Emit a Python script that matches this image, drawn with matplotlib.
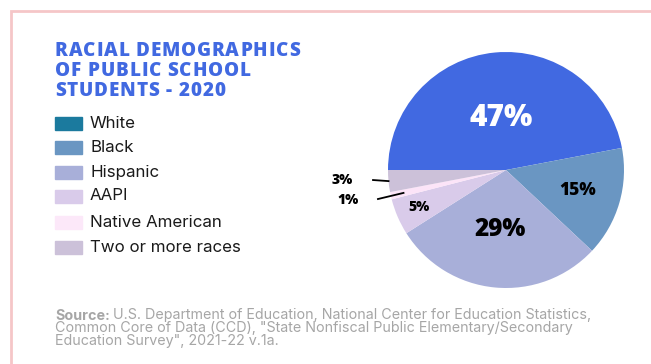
import numpy as np
import matplotlib.pyplot as plt
from matplotlib.patches import Rectangle

W, H = 651, 364

groups = ['White', 'Black', 'Hispanic', 'AAPI', 'Native American', 'Two or more races']
shares = [47, 15, 29, 5, 1, 3]
pie_colors = ['#4169E1', '#6A96C2', '#A8AFD9', '#D9CBEA', '#FCE4F8', '#CCC1D9']
key_colors = ['#1B7A9E', '#6A96C2', '#A8AFD9', '#D9CBEA', '#FCE8F9', '#CCC1D9']

title = 'RACIAL DEMOGRAPHICS\nOF PUBLIC SCHOOL\nSTUDENTS - 2020'
source_lines = ['U.S. Department of Education, National Center for Education Statistics,',
                'Common Core of Data (CCD), "State Nonfiscal Public Elementary/Secondary',
                'Education Survey", 2021-22 v.1a.']


def fx(x):
    return x / W


def fy(y):
    return 1 - y / H


fig = plt.figure(figsize=(W / 100, H / 100), dpi=100)
fig.patch.set_facecolor('white')
renderer = fig.canvas.get_renderer()


def text_width(s, **kw):
    t = fig.text(0, 0, s, **kw)
    w = t.get_window_extent(renderer).width
    t.remove()
    return w


def spaced_text(x, y, s, track, **kw):
    # draw a string one letter at a time with extra tracking (pixels)
    for i, ch in enumerate(s):
        off = text_width(s[:i], **kw) if i else 0
        fig.text(fx(x + off + i * track), fy(y), ch, **kw)


# pink frame
fig.patches.append(Rectangle((fx(11), -0.1), 2, fy(11) + 0.1, transform=fig.transFigure,
                             fill=False, edgecolor='#F5C6C8', linewidth=2))

# title
tstyle = dict(family='Open Sans', weight='heavy', fontsize=13.6, color='#4169E1',
              va='baseline')
for i, line in enumerate(title.split('\n')):
    spaced_text(55, 56 + 20 * i, line, 0.85, **tstyle)

# legend key
row_y = [123, 147, 172, 196, 222, 247]
for name, c, y in zip(groups, key_colors, row_y):
    fig.patches.append(Rectangle((fx(55), fy(y + 6.5)), 27 / W, 13 / H,
                                 transform=fig.transFigure, color=c))
    fig.text(fx(90), fy(y), name, family='Inter', fontsize=12.2,
             color='#1a1a1a', va='center')

# source note
sstyle = dict(family='Inter', fontsize=10.3, color='#A6A6A6', va='baseline')
src_w = text_width('Source: ', weight='bold', **sstyle)
fig.text(fx(55), fy(319.5), 'Source:', weight='bold', **sstyle)
fig.text(fx(55) + src_w / W, fy(319.5), source_lines[0], **sstyle)
fig.text(fx(55), fy(332), source_lines[1], **sstyle)
fig.text(fx(55), fy(344.5), source_lines[2], **sstyle)

# pie
cx, cy, r = 506, 170, 118
ax = fig.add_axes([fx(cx - r), fy(cy + r), 2 * r / W, 2 * r / H])
wedges, _ = ax.pie(shares, colors=pie_colors, startangle=180, counterclock=False,
                   radius=1, wedgeprops=dict(linewidth=0))
ax.set_xlim(-1, 1)
ax.set_ylim(-1, 1)
ax.set_aspect('equal')
ax.axis('off')

inside = {0: (0.44, 21.5, 'white'), 1: (0.63, 12.5, 'black'),
          2: (0.51, 17.5, 'black'), 3: (0.80, 10, 'black')}
for i, w in enumerate(wedges):
    mid = np.deg2rad((w.theta1 + w.theta2) / 2)
    if i in inside:
        d, fs, col = inside[i]
        ax.text(d * np.cos(mid), d * np.sin(mid), f'{shares[i]}%', ha='center',
                va='center', fontsize=fs, color=col, family='Open Sans',
                weight='heavy')

# small slices get leader lines
callouts = {4: (0.89, (-1.25, -0.25), (-1.085, -0.246)),
            5: (1.0, (-1.30, -0.085), (-1.127, -0.085))}
for i, (d, tpos, lstart) in callouts.items():
    w = wedges[i]
    mid = np.deg2rad((w.theta1 + w.theta2) / 2)
    ax.plot([lstart[0], d * np.cos(mid)], [lstart[1], d * np.sin(mid)],
            color='black', linewidth=1.3, clip_on=False)
    ax.text(tpos[0], tpos[1], f'{shares[i]}%', ha='right', va='center',
            fontsize=10, family='Open Sans', weight='heavy', color='black')

fig.savefig('out.png', dpi=100)
